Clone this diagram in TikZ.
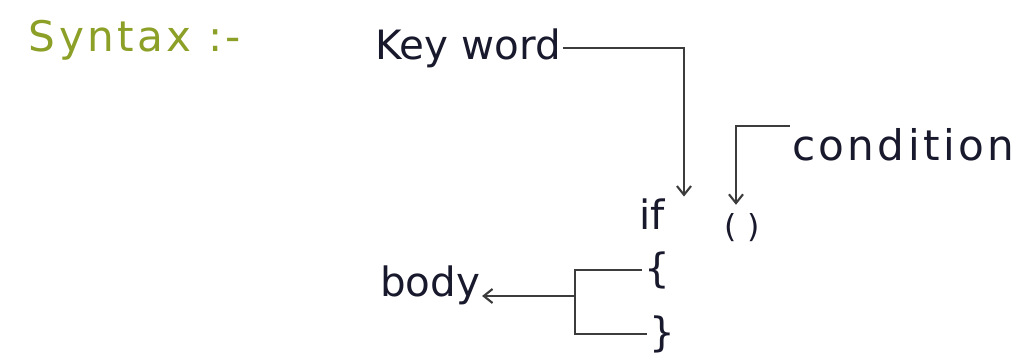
\documentclass[tikz,border=0pt]{standalone}
\usepackage{fontspec}
\setmainfont{DejaVu Sans}
\usepackage{xcolor}
\usepackage{tikz}
\usetikzlibrary{arrows.meta, positioning, calc}
\definecolor{ink}{RGB}{25, 25, 45}
\definecolor{pencil}{RGB}{60, 60, 60}
\definecolor{marker}{RGB}{140, 160, 40}

\begin{document}
\begin{tikzpicture}[
          x=0.02cm, y=-0.02cm,
          word/.style={text=ink, inner sep=1pt, font=\fontsize{23}{26}\selectfont},
          wide/.style={font=\fontsize{24}{26}\selectfont\addfontfeature{LetterSpace=8}},
          head/.style={text=marker, inner sep=1pt, wide},
          wire/.style={draw=pencil, line width=1.2pt},
          arr/.style={wire, -{Straight Barb[length=5pt, width=8pt]}},
        ]
        \useasboundingbox (0,0) rectangle (1032,361);

        \node[head] (syn) at (135,40) {Syntax :-};
        \node[word] (kw) at (468,48) {Key word};
        \node[word] (iff) at (652,214) {if};
        \node[word, font=\fontsize{18}{20}\selectfont] (paren) at (742,228) {( )};
        \node[word, wide, anchor=north west] (cond) at (790,126) {condition};
        \node[word] (ob) at (657,270) {\{};
        \node[word] (cb) at (662,334) {\}};
        \node[word] (body) at (430,285) {body};

        \coordinate (j) at (575,296);

        \draw[arr] (kw.east) -| ([xshift=0.64cm]iff.north);
        \draw[arr, shorten >=4pt] (cond.north west) -| ([xshift=-0.12cm]paren.north);
        \draw[wire] (ob.west) -| (j) |- (cb.west);
        \draw[arr] (j) -- (j -| body.east);
      \end{tikzpicture}
\end{document}
